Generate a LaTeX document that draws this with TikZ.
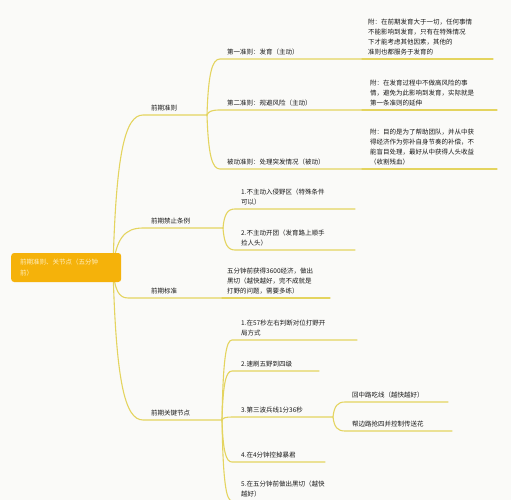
\documentclass[tikz,border=0pt]{standalone}
\usepackage{fontspec}
\usepackage{tikz}
\usetikzlibrary{calc}
\newfontfamily\cjk{Noto Sans CJK SC}
\definecolor{mind orange}{RGB}{245,178,10}
\definecolor{mind line}{RGB}{228,212,95}
\definecolor{mind text}{RGB}{25,25,25}
\definecolor{mind paper}{RGB}{250,250,248}
\definecolor{mind cream}{RGB}{255,238,190}

\tikzset{
  twig/.style={to path={let \p1=(\tikztostart), \p2=(\tikztotarget) in
      .. controls ({\x1+0.1*(\x2-\x1)},{\y1+0.75*(\y2-\y1)}) and ({\x1+0.4*(\x2-\x1)},\y2) .. (\p2)}},
  branch/.style={draw=mind line, line width=1.1pt, line cap=round},
  topic/.style={anchor=south west, inner sep=0pt, align=left, text=mind text,
      font=\cjk\fontsize{6.5}{10}\selectfont},
  rootbox/.style={anchor=west, fill=mind orange, rounded corners=3pt, text width=92pt,
      inner xsep=9pt, minimum height=29pt, align=left, text=mind cream,
      font=\cjk\fontsize{6.5}{11}\selectfont},
}

\begin{document}
\begin{tikzpicture}[x=1pt, y=-1pt]
			\useasboundingbox (0,0) rectangle (511,500);
			\fill[mind paper] (0,0) rectangle (511,500);
			\clip (0,0) rectangle (511,500);
			% underline points
			\coordinate (hub) at (113,268);
			\coordinate (qz-s) at (143,115);  \coordinate (qz-e) at (207,115);
			\coordinate (jz-s) at (143,228);  \coordinate (jz-e) at (223,228);
			\coordinate (bz-s) at (128,298);  \coordinate (bz-e) at (222,298);
			\coordinate (gj-s) at (143,420);  \coordinate (gj-e) at (222,420);
			\coordinate (a1-s) at (220,59);   \coordinate (a1-e) at (362,59);
			\coordinate (a2-s) at (220,110);  \coordinate (a2-e) at (362,110);
			\coordinate (a3-s) at (220,169);  \coordinate (a3-e) at (362,169);
			\coordinate (n1-e) at (493,59);
			\coordinate (n2-e) at (497,110);
			\coordinate (n3-e) at (497,169);
			\coordinate (b1-s) at (235,209);  \coordinate (b1-e) at (355,209);
			\coordinate (b2-s) at (235,250);  \coordinate (b2-e) at (355,250);
			\coordinate (bc-e) at (330,298);
			\coordinate (c1-s) at (232,340);  \coordinate (c1-e) at (357,340);
			\coordinate (c2-s) at (232,371);  \coordinate (c2-e) at (319,371);
			\coordinate (c3-s) at (232,417);  \coordinate (c3-e) at (333,417);
			\coordinate (c4-s) at (232,462);  \coordinate (c4-e) at (325,462);
			\coordinate (c5-s) at (232,501);  \coordinate (c5-e) at (355,501);
			\coordinate (d1-s) at (345,402);  \coordinate (d1-e) at (448,402);
			\coordinate (d2-s) at (345,431);  \coordinate (d2-e) at (452,431);
			% branches
			\foreach \k in {qz,jz,bz,gj}
				\draw[branch] (hub) to[twig] (\k-s) -- (\k-e);
			\foreach \k in {a1,a2,a3}
				\draw[branch] (qz-e) to[twig] (\k-s) -- (\k-e);
			\foreach \k/\n in {a1/n1,a2/n2,a3/n3}
				\draw[branch] (\k-e) -- (\n-e);
			\foreach \k in {b1,b2}
				\draw[branch] (jz-e) to[twig] (\k-s) -- (\k-e);
			\draw[branch] (bz-e) -- (bc-e);
			\foreach \k in {c1,c2,c3,c4,c5}
				\draw[branch] (gj-e) to[twig] (\k-s) -- (\k-e);
			\foreach \k in {d1,d2}
				\draw[branch] (c3-e) to[twig] (\k-s) -- (\k-e);
			% texts
			\node[topic] (qz) at (151,111.5) {前期准则};
			\node[topic] (jz) at (151,224.5) {前期禁止条例};
			\node[topic] (bz) at (151,294.5) {前期标准};
			\node[topic] (gj) at (151,416.5) {前期关键节点};
			\node[topic] (a1) at (227,55.5) {第一准则：发育（主动）};
			\node[topic] (a2) at (227,106.5) {第二准则：规避风险（主动）};
			\node[topic] (a3) at (227,165.5) {被动准则：处理突发情况（被动）};
			\node[topic] (n1) at (368,55.5) {附：在前期发育大于一切，任何事情\\不能影响到发育，只有在特殊情况\\下才能考虑其他因素，其他的\\准则也都服务于发育的};
			\node[topic] (n2) at (370,106.5) {附：在发育过程中不做高风险的事\\情，避免为此影响到发育，实际就是\\第一条准则的延伸};
			\node[topic] (n3) at (370,165.5) {附：目的是为了帮助团队，并从中获\\得经济作为弥补自身节奏的补偿，不\\能盲目处理，最好从中获得人头收益\\（收割残血）};
			\node[topic] (b1) at (241,205.5) {1.不主动入侵野区（特殊条件\\可以）};
			\node[topic] (b2) at (241,246.5) {2.不主动开团（发育路上顺手\\捡人头）};
			\node[topic] (bc) at (227,294.5) {五分钟前获得3600经济，做出\\黑切（越快越好，完不成就是\\打野的问题，需要多练）};
			\node[topic] (c1) at (241,336.5) {1.在57秒左右判断对位打野开\\局方式};
			\node[topic] (c2) at (241,367.5) {2.速刷五野到四级};
			\node[topic] (c3) at (241,413.5) {3.第三波兵线1分36秒};
			\node[topic] (c4) at (241,458.5) {4.在4分钟控掉暴君};
			\node[topic] (c5) at (241,497.5) {5.在五分钟前做出黑切（越快\\越好）};
			\node[topic] (d1) at (352,398.5) {回中路吃线（越快越好）};
			\node[topic] (d2) at (352,427.5) {帮边路抢四并控制传送花};
			% root
			\node[rootbox] (root) at (11,267.5) {前期准则、关节点（五分钟\\前）};
		\end{tikzpicture}
\end{document}
